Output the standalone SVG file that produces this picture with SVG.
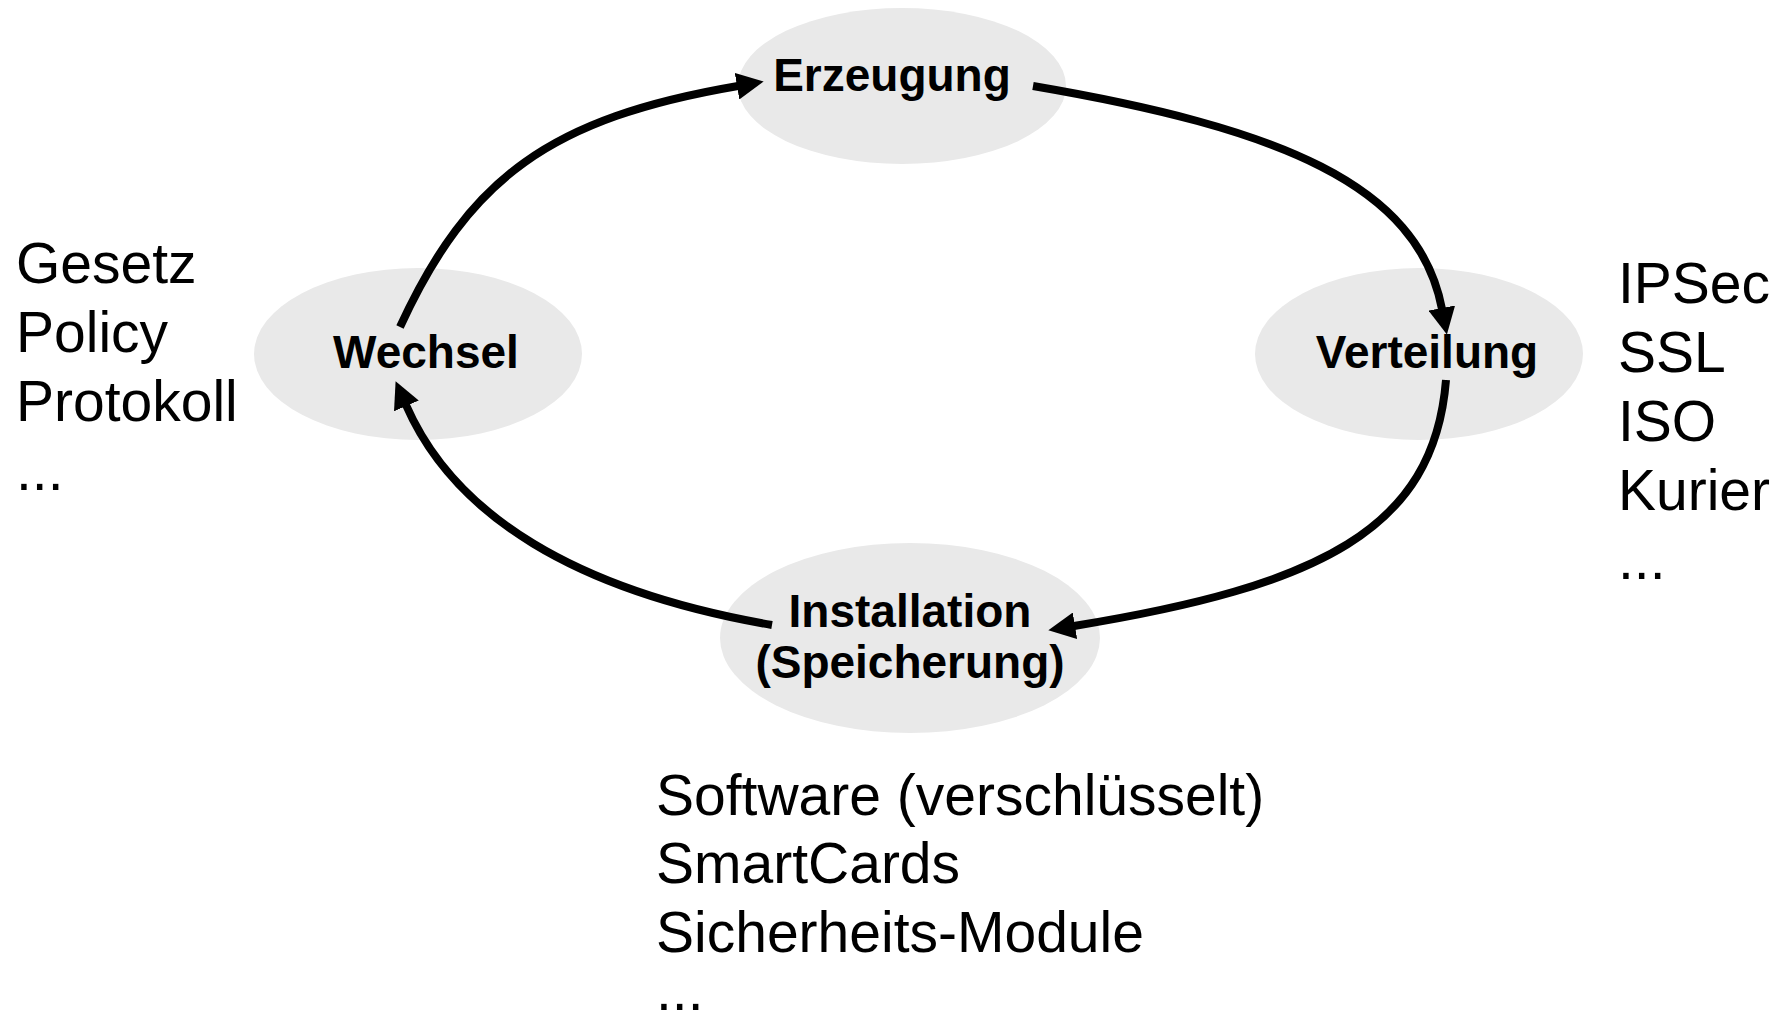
<svg xmlns="http://www.w3.org/2000/svg" width="1780" height="1022" viewBox="0 0 1780 1022">
  <style>
    .node { fill: #e9e9e9; stroke: none; }
    .label { font-family: "Liberation Sans", Arial, sans-serif; font-weight: bold; font-size: 46px; fill: #000; text-anchor: middle; }
    .list { font-family: "Liberation Sans", Arial, sans-serif; font-size: 57px; fill: #000; }
    .conn { fill: none; stroke: #000; stroke-width: 8; marker-end: url(#arrow); }
  </style>
  <defs>
    <marker id="arrow" markerUnits="userSpaceOnUse" markerWidth="27" markerHeight="27" viewBox="0 -13.5 27 27" refX="1" refY="0" orient="auto">
      <path d="M0,-13.5 L27,0 L0,13.5 z" fill="#000"/>
    </marker>
  </defs>
  <rect width="1780" height="1022" fill="#fff"/>

  <g id="node-erzeugung">
    <ellipse class="node" cx="902" cy="86" rx="164" ry="78"/>
    <text class="label" x="892" y="91">Erzeugung</text>
  </g>
  <g id="node-wechsel">
    <ellipse class="node" cx="418" cy="354" rx="164" ry="86"/>
    <text class="label" x="426" y="368">Wechsel</text>
  </g>
  <g id="node-verteilung">
    <ellipse class="node" cx="1419" cy="354" rx="164" ry="86"/>
    <text class="label" x="1427" y="368">Verteilung</text>
  </g>
  <g id="node-installation">
    <ellipse class="node" cx="910" cy="638" rx="190" ry="95"/>
    <text class="label" x="910" y="627">Installation</text>
    <text class="label" x="910" y="678">(Speicherung)</text>
  </g>

  <g id="connectors">
    <path class="conn" d="M400,327 C469,177 551,118 738,86"/>
    <path class="conn" d="M1033,86 C1279,128 1418,184 1442,309"/>
    <path class="conn" d="M1446,380 C1434,530 1319,586 1074,626"/>
    <path class="conn" d="M772,625 C575,591 454,515 406,405"/>
  </g>

  <g id="list-wechsel">
    <text class="list" x="16" y="283">Gesetz</text>
    <text class="list" x="16" y="352">Policy</text>
    <text class="list" x="16" y="421">Protokoll</text>
    <text class="list" x="16" y="490">...</text>
  </g>
  <g id="list-verteilung">
    <text class="list" x="1618" y="303">IPSec</text>
    <text class="list" x="1618" y="372">SSL</text>
    <text class="list" x="1618" y="441">ISO</text>
    <text class="list" x="1618" y="510">Kurier</text>
    <text class="list" x="1618" y="579">...</text>
  </g>
  <g id="list-installation">
    <text class="list" x="656" y="815">Software (verschlüsselt)</text>
    <text class="list" x="656" y="883">SmartCards</text>
    <text class="list" x="656" y="952">Sicherheits-Module</text>
    <text class="list" x="656" y="1010">...</text>
  </g>
</svg>
